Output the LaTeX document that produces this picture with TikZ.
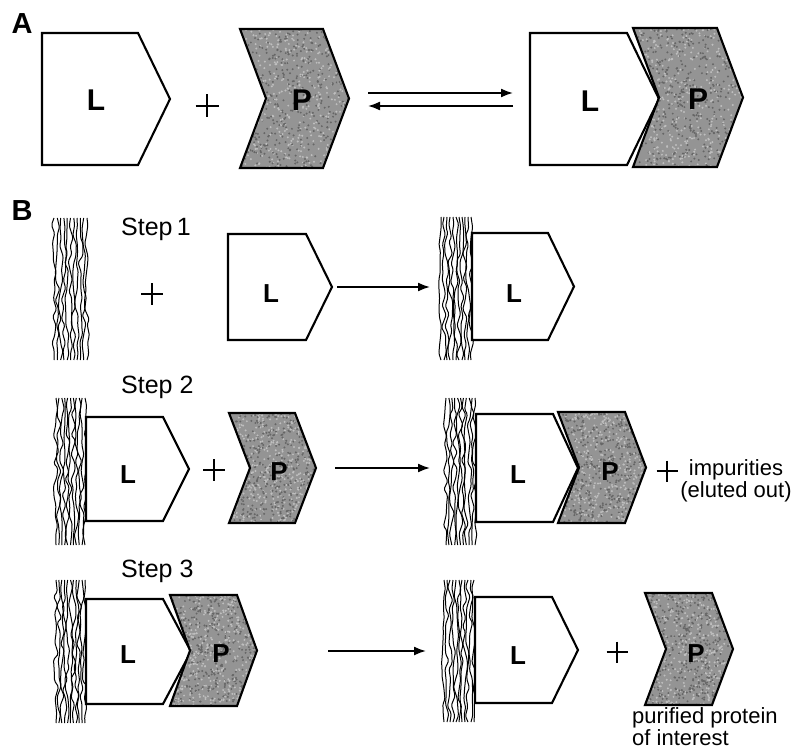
\documentclass[tikz,border=0pt]{standalone}
\usepackage{fontspec}
\setmainfont{Liberation Sans}
\usetikzlibrary{arrows.meta,decorations.pathmorphing}
\tikzset{
 lline/.style={line width=2.1pt, line join=miter, fill=white},
 pline/.style={line width=2.1pt, line join=miter},
 arr/.style={line width=1.7pt, -{Latex[length=12pt,width=9pt]}},
 pluss/.style={line width=1.5pt},
 fib/.style={line width=1pt, rounded corners=1.5pt, decorate, decoration={random steps, segment length=9pt, amplitude=2.6pt}},
 lp/.style={font=\fontsize{26}{28}\selectfont\bfseries, inner sep=0pt},
 lpA/.style={font=\fontsize{30}{32}\selectfont\bfseries, inner sep=0pt},
 panel/.style={font=\fontsize{29}{30}\selectfont\bfseries, inner sep=0pt},
 steplbl/.style={font=\fontsize{25}{28}\selectfont, inner sep=0pt, anchor=base west},
 note/.style={font=\fontsize{22}{22}\selectfont, inner sep=0pt},
}
\newcommand\speckle[4]{%
 \foreach \k in {1,...,420}{%
   \pgfmathsetmacro\rx{#1+rnd*(#3)}%
   \pgfmathsetmacro\ry{#2+rnd*(#4)}%
   \fill[black!60] (\rx,\ry) circle (1.1pt);
   \pgfmathsetmacro\sx{#1+rnd*(#3)}%
   \pgfmathsetmacro\sy{#2+rnd*(#4)}%
   \fill[black!25] (\sx,\sy) circle (1.1pt);
 }}
\newcommand\Pshape[5]{%
 \begin{scope}
 \clip (#1,#2) -- ++(#3,0) -- ++(#4,#5/2) -- ++(-#4,#5/2) -- ++(-#3,0) -- ++(#4,-#5/2) -- cycle;
 \fill[black!42] (#1,#2) rectangle ++(#3+#4,#5);
 \speckle{#1}{#2}{#3+#4}{#5}
 \end{scope}
 \draw[pline] (#1,#2) -- ++(#3,0) -- ++(#4,#5/2) -- ++(-#4,#5/2) -- ++(-#3,0) -- ++(#4,-#5/2) -- cycle;}
\newcommand\Lshape[5]{%
 \draw[lline] (#1,#2) -- ++(#3,0) -- ++(#4,#5/2) -- ++(-#4,#5/2) -- ++(-#3,0) -- cycle;}
\newcommand\fiber[4]{%
 \foreach \f in {0,...,10}{%
   \draw[fib] ({#1+1+\f*(#3-#1-2)/10},#2) -- ({#1+1+\f*(#3-#1-2)/10},#4);
 }}
\newcommand\plus[3]{\draw[pluss] (#1-#3/2,#2) -- (#1+#3/2,#2) (#1,#2-#3/2) -- (#1,#2+#3/2);}
\begin{document}
\begin{tikzpicture}[x=1pt,y=-1pt]
\pgfmathsetseed{7}
\useasboundingbox (0,0) rectangle (792,751);
% ---------- Panel A ----------
\node[panel] (labA) at (22,24) {A};
\Lshape{42}{33}{96}{32}{132}
\node[lpA] (LA1) at (96,100) {L};
\plus{207}{106}{23}
\Pshape{240}{29}{83}{26}{139}
\node[lpA] (PA1) at (302,100) {P};
\coordinate (eqa1) at (368,93);
\coordinate (eqa2) at (513,93);
\coordinate (eqb1) at (513,106);
\coordinate (eqb2) at (368,106);
\draw[arr] (eqa1) -- (eqa2);
\draw[arr] (eqb1) -- (eqb2);
\Lshape{530}{33}{97}{32}{132}
\Pshape{633}{28}{84}{26}{139}
\node[lpA] (LA2) at (590,101) {L};
\node[lpA] (PA2) at (698,99) {P};
% ---------- Panel B ----------
\node[panel] (labB) at (22,211) {B};
% Step 1
\node[steplbl] (st1) at (121,236) {Step\,1};
\fiber{53}{218}{88}{360}
\plus{152}{294}{22}
\Lshape{228}{234}{78}{26}{106}
\node[lp] (LB1) at (271,294) {L};
\coordinate (s1a) at (337,287);
\coordinate (s1b) at (430,287);
\draw[arr] (s1a) -- (s1b);
\fiber{440}{217}{472}{360}
\Lshape{472}{233}{76}{26}{107}
\node[lp] (LB2) at (514,294) {L};
% Step 2
\node[steplbl] (st2) at (121,393) {Step 2};
\fiber{55}{398}{86}{545}
\Lshape{86}{417}{77}{26}{104}
\node[lp] (LB3) at (128,475) {L};
\plus{214}{470}{22}
\Pshape{229}{413}{66}{21}{110}
\node[lp] (PB3) at (279,472) {P};
\coordinate (s2a) at (335,468);
\coordinate (s2b) at (430,468);
\draw[arr] (s2a) -- (s2b);
\fiber{445}{398}{476}{545}
\Lshape{476}{414}{77}{25}{108}
\Pshape{558}{412}{67}{21}{111}
\node[lp] (LB4) at (518,475) {L};
\node[lp] (PB4) at (610,472) {P};
\plus{667}{471}{21}
\node[note, align=center] (imp) at (736,481) {impurities\\(eluted out)};
% Step 3
\node[steplbl] (st3) at (121,577) {Step 3};
\fiber{55}{580}{86}{723}
\Lshape{86}{599}{77}{28}{105}
\Pshape{170}{595}{67}{20}{111}
\node[lp] (LB5) at (128,655) {L};
\node[lp] (PB5) at (221,654) {P};
\coordinate (s3a) at (328,651);
\coordinate (s3b) at (426,651);
\draw[arr] (s3a) -- (s3b);
\fiber{443}{580}{475}{722}
\Lshape{475}{597}{77}{26}{106}
\node[lp] (LB6) at (518,656) {L};
\plus{617}{652}{21}
\Pshape{645}{593}{67}{21}{112}
\node[lp] (PB6) at (696,654) {P};
\node[note, align=left, anchor=north west] (pur) at (632,707) {purified protein\\of interest};
\end{tikzpicture}
\end{document}
